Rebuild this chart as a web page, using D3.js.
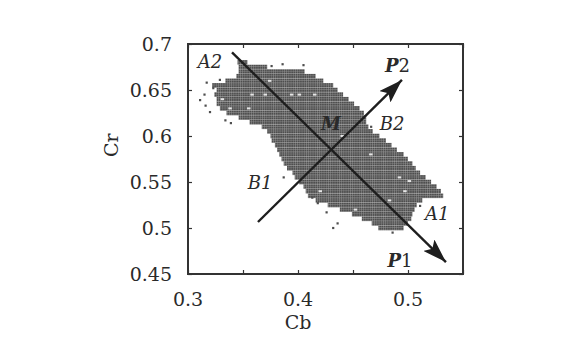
<!DOCTYPE html>
<html>
<head>
  <meta charset="utf-8">
  <script src="https://cdn.jsdelivr.net/npm/d3@7/dist/d3.min.js"></script>
  <style>
    body { margin: 0; background: #fff; }
    svg text { font-family: 'DejaVu Serif', 'Liberation Serif', serif; fill: #2a2a2a; }
  </style>
</head>
<body>
<svg id="chart" width="588" height="362"></svg>
<script>
// blob outline, one band per Cr row (band height 0.005)
var rowCr  = [0.68, 0.675, 0.67, 0.665, 0.66, 0.655, 0.65, 0.645, 0.64, 0.635, 0.63, 0.625, 0.62, 0.615, 0.61, 0.605, 0.6, 0.595, 0.59, 0.585, 0.58, 0.575, 0.57, 0.565, 0.56, 0.555, 0.55, 0.545, 0.54, 0.535, 0.53, 0.525, 0.52, 0.515, 0.51, 0.505, 0.5];
var rowMin = [0.345, 0.346, 0.346, 0.344, 0.334, 0.322, 0.326, 0.324, 0.326, 0.326, 0.329, 0.335, 0.346, 0.356, 0.367, 0.372, 0.375, 0.376, 0.379, 0.381, 0.383, 0.385, 0.387, 0.390, 0.395, 0.397, 0.401, 0.405, 0.407, 0.409, 0.416, 0.427, 0.438, 0.449, 0.458, 0.467, 0.473];
var rowMax = [0.354, 0.372, 0.406, 0.416, 0.423, 0.432, 0.436, 0.441, 0.446, 0.451, 0.456, 0.460, 0.462, 0.462, 0.464, 0.468, 0.474, 0.480, 0.485, 0.490, 0.496, 0.500, 0.504, 0.507, 0.511, 0.516, 0.521, 0.526, 0.530, 0.532, 0.513, 0.508, 0.506, 0.504, 0.503, 0.500, 0.496];

// isolated samples outside the bands
var strayCb = [0.311, 0.316, 0.320, 0.317, 0.323, 0.334, 0.339, 0.432, 0.436, 0.418, 0.413, 0.426, 0.386, 0.405, 0.376, 0.511, 0.387, 0.486, 0.4665, 0.315, 0.329];
var strayCr = [0.639, 0.633, 0.626, 0.658, 0.652, 0.617, 0.614, 0.500, 0.505, 0.527, 0.533, 0.517, 0.678, 0.677, 0.676, 0.524, 0.555, 0.495, 0.610, 0.645, 0.661];

// empty cells inside the blob
var holeCb = [0.358, 0.370, 0.394, 0.401, 0.415, 0.355, 0.466, 0.492, 0.501, 0.440, 0.483, 0.497, 0.374, 0.331, 0.338, 0.452, 0.420];
var holeCr = [0.645, 0.645, 0.645, 0.645, 0.645, 0.630, 0.580, 0.555, 0.551, 0.600, 0.530, 0.540, 0.660, 0.640, 0.630, 0.520, 0.540];

var xTicks = [0.3, 0.35, 0.4, 0.45, 0.5, 0.55];
var xLabels = [0.3, 0.4, 0.5];
var yTicks = [0.45, 0.5, 0.55, 0.6, 0.65, 0.7];

// principal axes: P1 from A2 down to the right, P2 from lower left up
var p1 = [[0.340, 0.691], [0.5345, 0.463]];
var p2 = [[0.3636, 0.5065], [0.4945, 0.661]];

var labels = [
  { t: 'A2', cb: 0.320, cr: 0.674 },
  { t: 'B2', cb: 0.4855, cr: 0.607 },
  { t: 'B1', cb: 0.3655, cr: 0.542 },
  { t: 'A1', cb: 0.5265, cr: 0.509 }
];

var svg = d3.select('#chart'),
  margin = { top: 44, right: 125, bottom: 88, left: 188 },
  width = +svg.attr('width') - margin.left - margin.right,
  height = +svg.attr('height') - margin.top - margin.bottom,
  g = svg.append('g').attr('transform', 'translate(' + margin.left + ',' + margin.top + ')');

var x = d3.scaleLinear().domain([0.3, 0.55]).range([0, width]);
var y = d3.scaleLinear().domain([0.45, 0.7]).range([height, 0]);

var defs = svg.append('defs');
var pat = defs.append('pattern')
  .attr('id', 'cells')
  .attr('patternUnits', 'userSpaceOnUse')
  .attr('width', 2.2)
  .attr('height', 2.3);
pat.append('rect').attr('width', 2.2).attr('height', 2.3).attr('fill', '#9a9a9a');
pat.append('rect').attr('width', 1.8).attr('height', 1.9).attr('fill', '#4e4e4e');

defs.append('marker')
  .attr('id', 'head')
  .attr('markerUnits', 'userSpaceOnUse')
  .attr('viewBox', '0 0 24 16')
  .attr('markerWidth', 24)
  .attr('markerHeight', 16)
  .attr('refX', 24)
  .attr('refY', 8)
  .attr('orient', 'auto')
  .append('path')
  .attr('d', 'M0,0 L24,8 L0,16 L5,8 Z')
  .attr('fill', '#1e1e1e');

var half = 0.0025;
g.append('g').selectAll('rect')
  .data(rowCr)
  .join('rect')
  .attr('x', (d, i) => x(rowMin[i]))
  .attr('width', (d, i) => x(rowMax[i]) - x(rowMin[i]))
  .attr('y', d => y(d + half))
  .attr('height', d => y(d - half) - y(d + half))
  .attr('fill', 'url(#cells)');

g.append('g').selectAll('rect')
  .data(strayCb)
  .join('rect')
  .attr('x', d => x(d) - 1.1)
  .attr('y', (d, i) => y(strayCr[i]) - 1.1)
  .attr('width', 2.2)
  .attr('height', 2.2)
  .attr('fill', '#4e4e4e');

g.append('g').selectAll('rect')
  .data(holeCb)
  .join('rect')
  .attr('x', d => x(d) - 1.5)
  .attr('y', (d, i) => y(holeCr[i]) - 1)
  .attr('width', 3.5)
  .attr('height', 2)
  .attr('fill', '#e6e6e6');

// frame with inward ticks on all sides
g.append('rect')
  .attr('width', width)
  .attr('height', height)
  .attr('fill', 'none')
  .attr('stroke', '#333')
  .attr('stroke-width', 2);

g.append('g')
  .attr('transform', 'translate(0,' + height + ')')
  .call(d3.axisBottom(x).tickValues(xTicks).tickSize(-4).tickFormat(''))
  .call(a => a.select('.domain').remove());
g.append('g')
  .call(d3.axisTop(x).tickValues(xTicks).tickSize(-4).tickFormat(''))
  .call(a => a.select('.domain').remove());
g.append('g')
  .call(d3.axisLeft(y).tickValues(yTicks).tickSize(-4).tickFormat(''))
  .call(a => a.select('.domain').remove());
g.append('g')
  .attr('transform', 'translate(' + width + ',0)')
  .call(d3.axisRight(y).tickValues(yTicks).tickSize(-4).tickFormat(''))
  .call(a => a.select('.domain').remove());
g.selectAll('.tick line').attr('stroke', '#333').attr('stroke-width', 1.2);

g.append('g').selectAll('text')
  .data(xLabels)
  .join('text')
  .attr('x', d => x(d))
  .attr('y', height + 32)
  .attr('text-anchor', 'middle')
  .attr('font-size', 19)
  .text(d => d);

g.append('g').selectAll('text')
  .data(yTicks)
  .join('text')
  .attr('x', -16)
  .attr('y', d => y(d))
  .attr('dy', '0.36em')
  .attr('text-anchor', 'end')
  .attr('font-size', 19)
  .text(d => d);

g.append('text')
  .attr('x', x(0.4))
  .attr('y', height + 55)
  .attr('text-anchor', 'middle')
  .attr('font-size', 19)
  .text('Cb');

g.append('text')
  .attr('transform', 'translate(-70,' + y(0.59) + ') rotate(-90)')
  .attr('text-anchor', 'middle')
  .attr('font-size', 19)
  .text('Cr');

var line = d3.line().x(d => x(d[0])).y(d => y(d[1]));
[p1, p2].forEach(p => {
  g.append('path')
    .datum(p)
    .attr('d', line)
    .attr('fill', 'none')
    .attr('stroke', '#1e1e1e')
    .attr('stroke-width', 2.4)
    .attr('marker-end', 'url(#head)');
});

g.append('g').selectAll('text')
  .data(labels)
  .join('text')
  .attr('x', d => x(d.cb))
  .attr('y', d => y(d.cr))
  .attr('text-anchor', 'middle')
  .attr('font-style', 'italic')
  .attr('font-size', 18)
  .text(d => d.t);

var bold = [{ t: 'P', s: '2', cb: 0.4905, cr: 0.670 }, { t: 'P', s: '1', cb: 0.4927, cr: 0.458 }];
bold.forEach(b => {
  var t = g.append('text')
    .attr('x', x(b.cb))
    .attr('y', y(b.cr))
    .attr('text-anchor', 'middle')
    .attr('font-size', 18);
  t.append('tspan').attr('font-weight', 'bold').attr('font-style', 'italic').text(b.t);
  t.append('tspan').text(b.s);
});

g.append('text')
  .attr('x', x(0.43))
  .attr('y', y(0.6065))
  .attr('text-anchor', 'middle')
  .attr('font-size', 18)
  .attr('font-weight', 'bold')
  .attr('font-style', 'italic')
  .text('M');
</script>
</body>
</html>
